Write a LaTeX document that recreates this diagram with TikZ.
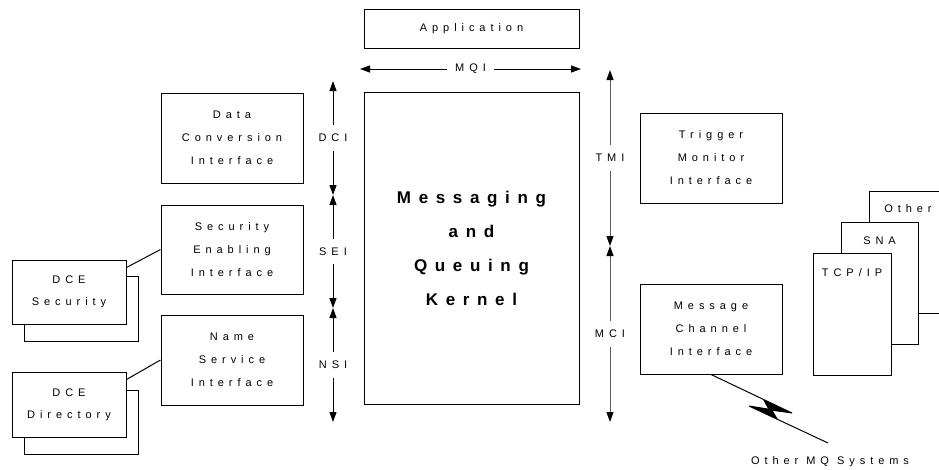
\documentclass[tikz,border=0pt]{standalone}
\usepackage{fontspec}
\setmainfont{Liberation Sans}[LetterSpace=45]
\usetikzlibrary{arrows.meta}

\begin{document}
\begin{tikzpicture}[x=1pt,y=-1pt,
  every node/.style={inner sep=0pt},
  txt/.style={font=\fontsize{11}{23}\selectfont, align=center},
  box/.style={draw, line width=1pt, fill=white, txt},
  ifbox/.style={box, minimum width=142pt, minimum height=90pt},
  dcebox/.style={box, minimum width=114pt, minimum height=64pt, font=\fontsize{11}{22}\selectfont},
  netbox/.style={box, minimum width=78pt, minimum height=122pt},
  iflabel/.style={txt, fill=white, inner xsep=2pt, inner ysep=9pt},
  link/.style={line width=1pt},
  tip/.tip={Triangle[width=7pt,length=10pt,color=black]},
  ifarrow/.style={line width=1pt, tip-tip},
  greyarrow/.style={ifarrow, draw=black!65}
]
\clip (0,0) rectangle (939,469);
\fill[white] (0,0) rectangle (939,469);

% application and kernel
\node[box, minimum width=215pt, minimum height=39pt] (app) at (471.5,28.5) {Application};
\node[box, minimum width=215pt, minimum height=312pt,
      font=\fontsize{17}{34}\selectfont\bfseries] (kernel) at (471.5,248)
      {Messaging\\and\\Queuing\\Kernel};

% left-hand interfaces
\node[ifbox] (dci) at (232,138)   {Data\\Conversion\\Interface};
\node[ifbox, minimum height=89pt] (sei) at (232,249.5) {Security\\Enabling\\Interface};
\node[ifbox] (nsi) at (232,360)   {Name\\Service\\Interface};

% DCE services (stacked pairs)
\node[dcebox, minimum height=65pt] (secb) at (81,308.5) {};
\node[dcebox] (secf) at (69,292) {DCE\\Security};
\node[dcebox] (dirb) at (81,422) {};
\node[dcebox, minimum height=65pt] (dirf) at (69,404.5) {DCE\\Directory};

\draw[link] ([yshift=-8pt]secf.north east) -- (sei.west);
\draw[link] ([yshift=-8pt]dirf.north east) -- (nsi.west);

% right-hand interfaces
\node[ifbox] (tmi) at (711,158) {Trigger\\Monitor\\Interface};
\node[ifbox] (mci) at (711,329) {Message\\Channel\\Interface};

% network protocol stack
\node[netbox, minimum width=81pt] (other) at (909.5,252) {};
\node[txt] (othert) at (908,209) {Other};
\node[netbox, minimum width=77pt] (sna) at (879.5,283) {};
\node[txt] (snat) at (879.5,241) {SNA};
\node[netbox] (tcp) at (852,314) {};
\node[txt] (tcpt) at (852,273) {TCP/IP};

% MQI arrow
\coordinate (m0) at (360,69);
\coordinate (m1) at (581,69);
\draw[ifarrow] (m0) -- node[iflabel, inner xsep=8pt, inner ysep=2pt] (mqi) {MQI} (m1);

% left interface arrows
\coordinate (l0) at (333,81);
\coordinate (l1) at (333,195);
\coordinate (l2) at (333,308);
\coordinate (l3) at (333,422);
\draw[ifarrow] (l0) -- node[iflabel] (dcil) {DCI} (l1);
\draw[ifarrow] (l1) -- node[iflabel] (seil) {SEI} (l2);
\draw[ifarrow] (l2) -- node[iflabel] (nsil) {NSI} (l3);

% right interface arrows
\coordinate (r0) at (610,70);
\coordinate (r1) at (610,246);
\coordinate (r2) at (610,422);
\draw[greyarrow] (r0) -- node[iflabel] (tmil) {TMI} (r1);
\draw[greyarrow] (r1) -- node[iflabel] (mcil) {MCI} (r2);

% lightning link to other MQ systems
\coordinate (zr) at (792,413);
\coordinate (zl) at (749,406);
\coordinate (zend) at (828,443);
\draw[link, line join=bevel] (mci.south) -- (zr) -- (zl) -- (zend);
\fill (763,399.5) -- (zr) -- (769,410.5) -- cycle;
\fill (zl) -- (772,409.5) -- (778,419.5) -- cycle;
\node[txt] (omq) at (830,462) {Other MQ Systems};
\end{tikzpicture}
\end{document}
